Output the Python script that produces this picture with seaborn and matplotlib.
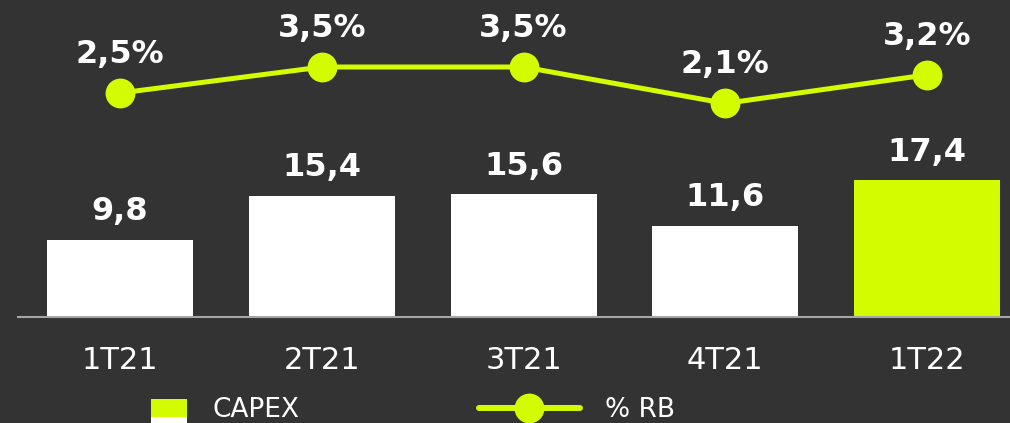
import matplotlib
matplotlib.use("Agg")
import matplotlib.pyplot as plt
import seaborn as sns
import pandas as pd
from matplotlib.lines import Line2D
from matplotlib.patches import Rectangle, Patch
from matplotlib.legend_handler import HandlerBase

# ---- data ----
quarters = ["1T21", "2T21", "3T21", "4T21", "1T22"]
capex = [9.8, 15.4, 15.6, 11.6, 17.4]
pct_rb = [2.5, 3.5, 3.5, 2.1, 3.2]
capex_labels = ["9,8", "15,4", "15,6", "11,6", "17,4"]
pct_labels = ["2,5%", "3,5%", "3,5%", "2,1%", "3,2%"]
legend_labels = ["CAPEX", "% RB"]

BG = "#333333"
LIME = "#d4fc00"
WHITE = "#ffffff"
bar_colors = [WHITE, WHITE, WHITE, WHITE, LIME]

sns.set_theme(style="white")
plt.rcParams["font.family"] = ["DejaVu Sans"]

W, H = 1010, 423
fig = plt.figure(figsize=(W / 100, H / 100), dpi=100, facecolor=BG)
ax = fig.add_axes([18 / W, 106 / H, (W - 18) / W, 317 / H])
ax.set_facecolor(BG)

df = pd.DataFrame({"q": quarters, "capex": capex})
sns.barplot(data=df, x="q", y="capex", hue="q", palette=bar_colors,
            legend=False, width=0.724, saturation=1, linewidth=0,
            edgecolor="none", ax=ax)
ax.set_xlim(-0.506, 4.411)
ax.set_ylim(0, 40.3)
for sp in ["top", "right", "left"]:
    ax.spines[sp].set_visible(False)
ax.spines["bottom"].set_color("#a6a6a6")
ax.spines["bottom"].set_linewidth(1.5)
ax.spines["bottom"].set_zorder(5)
ax.set_yticks([])
ax.set_xlabel("")
ax.set_ylabel("")
ax.tick_params(axis="x", length=0, pad=21, labelsize=22, labelcolor=WHITE)

for i, (v, lab) in enumerate(zip(capex, capex_labels)):
    ax.annotate(lab, (i, v), xytext=(0, 14), textcoords="offset points",
                ha="center", va="baseline", fontsize=23, fontweight="bold",
                color=WHITE)

ax2 = ax.twinx()
ax2.set_ylim(-6.115, 6.077)
sns.lineplot(x=list(range(len(quarters))), y=pct_rb, ax=ax2, color=LIME,
             linewidth=3.6, marker="o", markersize=21.5, markeredgewidth=0,
             legend=False)
ax2.set_xlim(-0.506, 4.411)
ax2.axis("off")
for i, (v, lab) in enumerate(zip(pct_rb, pct_labels)):
    ax2.annotate(lab, (i, v), xytext=(0, 21.6), textcoords="offset points",
                 ha="center", va="baseline", fontsize=23, fontweight="bold",
                 color=WHITE)


class SplitSquare(HandlerBase):
    def create_artists(self, legend, orig_handle, xdescent, ydescent,
                       width, height, fontsize, trans):
        w = width * 0.356
        x0 = width - w - xdescent
        top = Rectangle((x0, -ydescent), w, height, facecolor=LIME,
                        edgecolor="none", transform=trans)
        bot = Rectangle((x0, -ydescent - height), w, height, facecolor=WHITE,
                        edgecolor="none", transform=trans)
        return [top, bot]


h_bar = Patch(facecolor=LIME)
h_line = Line2D([0], [0], color=LIME, linewidth=4.3, marker="o",
                markersize=21.5, markeredgewidth=0)
leg = fig.legend([h_bar, h_line], legend_labels, ncol=2,
                 handler_map={Patch: SplitSquare()},
                 loc="upper left", bbox_to_anchor=(86 / W, 1 - 397 / H),
                 frameon=False, fontsize=19, handlelength=3.83,
                 handletextpad=0.95, columnspacing=6.8, borderpad=0,
                 borderaxespad=0, labelcolor=WHITE, numpoints=1)

fig.savefig("out.png", dpi=100, facecolor=BG)
